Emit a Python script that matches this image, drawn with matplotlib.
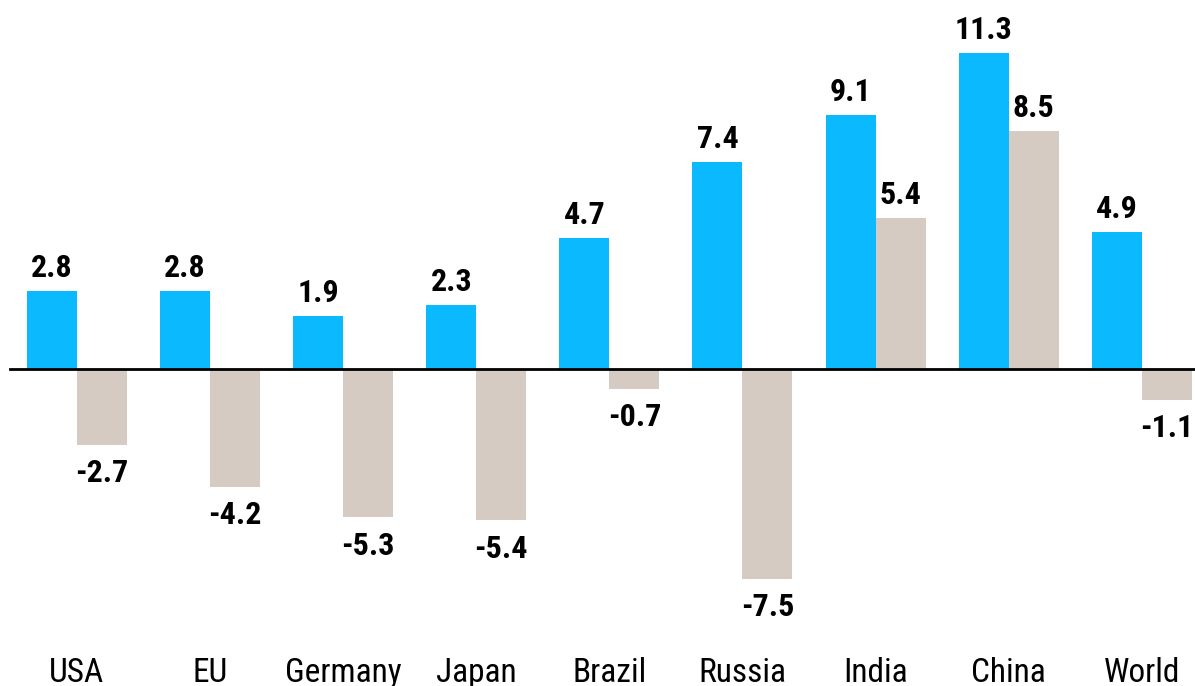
import numpy as np
import matplotlib
matplotlib.use('Agg')
import matplotlib.pyplot as plt

# GDP growth by region (two periods)
regions = ['USA', 'EU', 'Germany', 'Japan', 'Brazil', 'Russia', 'India', 'China', 'World']
growth_a = [2.8, 2.8, 1.9, 2.3, 4.7, 7.4, 9.1, 11.3, 4.9]
growth_b = [-2.7, -4.2, -5.3, -5.4, -0.7, -7.5, 5.4, 8.5, -1.1]

blue = '#0BB9FF'
beige = '#D5CBC3'

plt.rcParams['font.family'] = ['Roboto Condensed', 'DejaVu Sans']

fig = plt.figure(figsize=(11.95, 6.86), dpi=100)
ax = fig.add_axes([0, 46 / 686, 1, 640 / 686])

x = np.arange(len(regions))
w = 0.376
bars_a = ax.bar(x - w / 2, growth_a, w, color=blue)
bars_b = ax.bar(x + w / 2, growth_b, w, color=beige)

ax.set_xlim(-0.578, 8.40)
ax.set_ylim(-9.69, 13.2)
ax.axhline(0, xmin=10 / 1195, xmax=1, color='black', lw=2)

# px -> pt at 100 dpi
pt = 72 / 100
for bars in (bars_a, bars_b):
    for b in bars:
        v = b.get_height()
        cx = b.get_x() + b.get_width() / 2
        off = 14 * pt if v >= 0 else -(14 + 23.5) * pt
        ax.annotate(f'{v:.1f}', (cx, v), xytext=(0, off), textcoords='offset points',
                    ha='center', va='baseline', fontsize=23, fontweight='bold')

ax.set_xticks(x)
ax.set_xticklabels(regions, fontsize=24, va='baseline')
ax.tick_params(axis='x', length=0, pad=42 * pt)
ax.set_yticks([])
for s in ax.spines.values():
    s.set_visible(False)

fig.savefig('out.png', dpi=100)
